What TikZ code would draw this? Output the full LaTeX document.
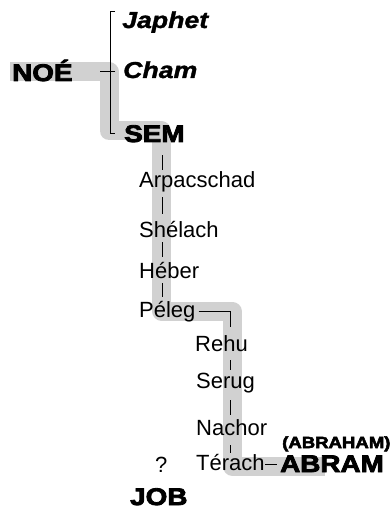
\documentclass[tikz,border=0pt]{standalone}
\usepackage{fontspec}
\setmainfont{Liberation Sans}
\newfontfamily\widefont{Liberation Sans}[FakeStretch=1.16,BoldFeatures={FakeBold=3.5},BoldItalicFeatures={FakeBold=1.5}]
\begin{document}
\begin{tikzpicture}[x=1pt, y=-1pt]
  \useasboundingbox (0, 0) rectangle (389, 510);  % Rand wie im Original.
  \tikzstyle{person}=[anchor=base west, inner sep=0pt, text height=16pt, text depth=4pt, font=\fontsize{22}{26}\selectfont]
  \tikzstyle{chief}=[anchor=base west, inner sep=0pt, font=\widefont\bfseries\fontsize{24}{28}\selectfont]
  \tikzstyle{heir}=[anchor=base west, inner sep=0pt, font=\widefont\bfseries\itshape\fontsize{23}{27}\selectfont]
  \tikzstyle{link}=[draw, line width=0.9pt]
  \tikzstyle{lineage}=[draw, black!18, line width=19pt, line join=round]

  \draw[lineage] (10, 72) -- (109, 72) -- (109, 131) -- (161.5, 131) -- (161.5, 311)
    -- (232, 311) -- (232, 466) -- (325, 466);

  \node[heir]   (japhet)     at (122, 28)  {Japhet};
  \node[heir]   (cham)       at (123, 78)  {Cham};
  \node[chief]  (noe)        at (12, 81)   {NOÉ};
  \node[chief]  (sem)        at (124, 142) {SEM};
  \node[person] (arpacschad) at (139, 188) {Arpacschad};
  \node[person] (shelach)    at (139, 237) {Shélach};
  \node[person] (heber)      at (139, 278) {Héber};
  \node[person] (peleg)      at (139, 317) {Péleg};
  \node[person] (rehu)       at (195, 351) {Rehu};
  \node[person] (serug)      at (196, 388) {Serug};
  \node[person] (nachor)     at (196, 435) {Nachor};
  \node[person] (terach)     at (196, 470) {Térach};
  \node[person] (unknown)    at (155, 472) {?};
  \node[chief]  (abram)      at (280, 472) {ABRAM};
  \node[chief, font=\widefont\bfseries\fontsize{16}{18}\selectfont] (abraham) at (282, 448) {(ABRAHAM)};
  \node[chief]  (job)        at (130, 505) {JOB};

  \coordinate (stemA) at (162, 0);
  \coordinate (stemB) at (230, 0);

  \draw[link] ([xshift=-7pt]japhet.north west) -- ++(-5, 0) |- ([xshift=-9pt]sem.west);
  \draw[link] ([xshift=-8pt, yshift=-2pt]cham.west) -- ++(-15, 0);

  \path (sem.south -| stemA) edge[link, shorten <=13pt, shorten >=2pt] (arpacschad.north -| stemA);
  \path (arpacschad.south -| stemA) edge[link, shorten <=5pt, shorten >=7pt] (shelach.north -| stemA);
  \path (shelach.south -| stemA) edge[link, shorten <=1pt, shorten >=5pt] (heber.north -| stemA);
  \path (heber.south -| stemA) edge[link, shorten <=1pt, shorten >=4pt] (peleg.north -| stemA);
  \draw[link] ([xshift=3pt]peleg.east) -| ([yshift=8pt]rehu.north -| stemB);
  \path (rehu.south -| stemB) edge[link, shorten <=5pt, shorten >=2pt] (serug.north -| stemB);
  \path (serug.south -| stemB) edge[link, shorten <=8pt, shorten >=4pt] (nachor.north -| stemB);
  \path (nachor.south -| stemB) edge[link, shorten <=6pt, shorten >=1pt] (terach.north -| stemB);
  \path (terach.east) edge[link, shorten >=3pt] (abram.west |- terach.east);
\end{tikzpicture}
\end{document}
